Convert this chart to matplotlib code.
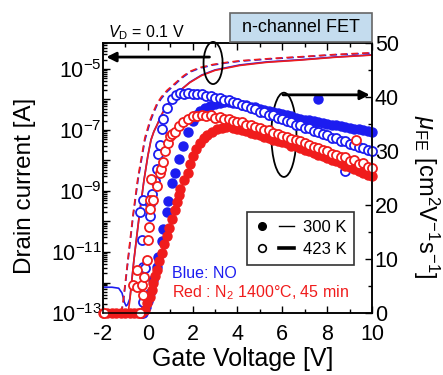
import numpy as np
import matplotlib
matplotlib.use('Agg')
import matplotlib.pyplot as plt
from matplotlib.lines import Line2D
from matplotlib.legend_handler import HandlerTuple
from matplotlib.patches import Ellipse, Rectangle
from matplotlib.ticker import LogLocator, FuncFormatter, MultipleLocator, NullFormatter

plt.rcParams.update({
    'font.family': ['Liberation Sans', 'DejaVu Sans'],
    'mathtext.fontset': 'custom',
    'mathtext.rm': 'Liberation Sans',
    'mathtext.it': 'Liberation Sans:italic',
    'mathtext.bf': 'Liberation Sans:bold',
    'axes.unicode_minus': False,
    'axes.linewidth': 1.1,
})

BLUE = '#1c1cf0'
RED = '#f01c1c'

# ---- drain current (left axis, log) ----
vg_i_no_300 = [-2.0, -1.6, -1.3, -1.15, -1.05, -0.97, -0.90, -0.80, -0.62, -0.39, -0.17, 0.0, 0.14,
               0.27, 0.41, 0.58, 0.77, 1.0, 1.21, 1.55, 1.88, 2.4, 3.0, 4.1, 5.3, 6.8, 8.3, 10.0]
i_no_300 = [7.0e-13, 7.0e-13, 6.5e-13, 4.5e-13, 2.3e-13, 1.7e-13, 1.9e-13, 3.0e-13, 5.5e-12, 1.4e-10,
            2.3e-9, 1.4e-8, 4.7e-8, 8.9e-8, 1.45e-7, 2.8e-7, 5.2e-7, 8.9e-7, 1.3e-6, 2.3e-6, 3.7e-6,
            6.3e-6, 9.3e-6, 1.35e-5, 1.7e-5, 2.0e-5, 2.45e-5, 2.9e-5]

vg_i_n2_300 = [-0.88, -0.80, -0.62, -0.39, -0.17, 0.0, 0.14, 0.27, 0.41, 0.58, 0.77, 1.0, 1.21,
               1.55, 1.88, 2.4, 3.0, 4.1, 5.3, 6.8, 8.3, 10.0]
i_n2_300 = [1.0e-13, 2.7e-13, 5.5e-12, 1.4e-10, 2.3e-9, 1.4e-8, 4.7e-8, 8.9e-8, 1.45e-7, 2.8e-7,
            5.2e-7, 8.9e-7, 1.3e-6, 2.3e-6, 3.6e-6, 6.1e-6, 9.0e-6, 1.3e-5, 1.65e-5, 1.95e-5,
            2.4e-5, 2.85e-5]

vg_i_423 = [-1.20, -1.11, -0.88, -0.66, -0.44, -0.13, 0.10, 0.25, 0.41, 0.60, 0.86, 1.10, 1.43,
            1.60, 1.88, 2.30, 2.91, 3.50, 4.11, 5.50, 6.79, 8.30, 10.0]
i_no_423 = [1.0e-13, 1.8e-13, 5.5e-12, 1.4e-10, 2.3e-9, 4.7e-8, 1.8e-7, 3.5e-7, 6.6e-7, 1.07e-6,
            1.8e-6, 2.6e-6, 4.4e-6, 5.6e-6, 7.9e-6, 1.05e-5, 1.35e-5, 1.58e-5, 1.8e-5, 2.14e-5,
            2.45e-5, 2.9e-5, 3.3e-5]
i_n2_423 = [1.0e-13, 2.1e-13, 6.5e-12, 1.7e-10, 2.8e-9, 5.6e-8, 2.1e-7, 4.0e-7, 7.4e-7, 1.2e-6,
            2.0e-6, 2.85e-6, 4.7e-6, 6.0e-6, 8.3e-6, 1.1e-5, 1.4e-5, 1.63e-5, 1.85e-5, 2.2e-5,
            2.5e-5, 2.95e-5, 3.4e-5]

# ---- field-effect mobility (right axis) ----
vg_mu_no_300 = [-0.30, -0.20, -0.10, 0.00, 0.10, 0.23, 0.41, 0.45, 0.63, 0.68, 0.85, 0.90, 1.08, 1.21,
                1.40, 1.57, 1.79, 2.00, 2.17, 2.33, 2.55, 2.77, 3.00, 3.20, 3.40, 3.60, 3.80, 4.00,
                4.20, 4.40, 4.60, 4.80, 5.00, 5.20, 5.40, 5.60, 5.80, 6.00, 6.20, 6.40, 6.60, 6.80,
                7.00, 7.20, 7.40, 7.60, 7.60, 7.80, 8.00, 8.20, 8.40, 8.60, 8.80, 9.00, 9.20, 9.40,
                9.60, 9.80, 10.00]
mu_no_300 = [0.0, 0.0, 1.1, 2.2, 3.7, 6.2, 8.6, 10.4, 13.3, 15.5, 18.7, 20.7, 24.0, 26.0, 28.5,
             31.0, 33.6, 35.6, 36.7, 37.5, 38.0, 38.4, 38.7, 38.9, 39.0, 39.1, 38.9, 38.9, 38.6,
             38.5, 38.2, 38.1, 37.8, 37.6, 37.4, 37.2, 37.0, 36.8, 36.6, 36.4, 36.2, 36.0, 35.8,
             35.7, 35.5, 35.3, 39.7, 35.1, 35.0, 34.9, 34.8, 34.7, 34.4, 34.3, 34.1, 34.0, 33.8,
             33.7, 33.5]

vg_mu_no_423 = [-0.30, -0.22, -0.20, -0.13, -0.26, -0.35, -0.22, 0.10, 0.10, 0.19, 0.32, 0.41, 0.45,
                0.54, 0.63, 0.68, 0.85, 1.08, 1.25, 1.43, 1.60, 1.80, 2.00, 2.20, 2.40, 2.60, 2.80,
                3.00, 3.20, 3.40, 3.60, 3.80, 4.00, 4.20, 4.40, 4.60, 4.80, 5.00, 5.20, 5.40, 5.60,
                5.80, 6.00, 6.20, 6.40, 6.60, 6.80, 7.00, 7.20, 7.40, 7.60, 7.80, 8.00, 8.20, 8.40,
                8.60, 8.80, 8.80, 9.00, 9.20, 9.40, 9.60, 9.80, 10.00]
mu_no_423 = [0.0, 2.0, 8.6, 8.4, 13.6, 18.7, 21.0, 17.9, 20.2, 22.0, 24.4, 26.7, 29.5, 31.2, 34.0,
             36.0, 38.0, 39.7, 40.3, 40.7, 40.6, 40.8, 40.6, 40.5, 40.6, 40.2, 40.2, 39.9, 39.8,
             39.5, 39.5, 39.0, 38.9, 38.5, 38.4, 37.9, 37.8, 37.3, 37.2, 36.7, 36.6, 36.1, 36.0,
             35.5, 35.4, 34.9, 34.8, 34.3, 34.2, 33.7, 33.6, 33.1, 33.0, 32.5, 32.4, 31.9, 31.8,
             26.3, 31.3, 31.2, 30.7, 30.6, 30.1, 30.0]

vg_mu_n2_300 = [-2.00, -1.80, -1.60, -1.40, -1.20, -1.00, -0.80, -0.60, -0.45, -0.30, -0.13, -0.02,
                0.10, 0.17, 0.23, 0.32, 0.41, 0.52, 0.63, 0.74, 0.85, 0.96, 1.08, 1.19, 1.30, 1.37,
                1.43, 1.60, 1.79, 1.90, 2.00, 2.15, 2.33, 2.50, 2.64, 2.85, 3.10, 3.30, 3.50, 3.80,
                4.00, 4.20, 4.40, 4.60, 4.80, 5.00, 5.20, 5.40, 5.60, 5.80, 6.00, 6.20, 6.40, 6.60,
                6.80, 7.00, 7.20, 7.40, 7.60, 7.80, 8.00, 8.20, 8.40, 8.60, 8.80, 9.00, 9.20, 9.40,
                9.60, 9.80, 10.00]
mu_n2_300 = [0, 0, 0, 0, 0, 0, 0, 0, 0, 0, 0.6, 1.8, 3.0, 4.3, 5.6, 6.8, 8.0, 9.6, 11.2, 12.7,
             14.2, 15.8, 17.4, 19.0, 20.5, 21.8, 23.0, 24.6, 26.0, 27.6, 29.0, 30.4, 31.5, 32.4,
             33.0, 33.6, 34.0, 34.3, 34.4, 34.2, 34.0, 33.8, 33.7, 33.3, 33.2, 32.9, 32.6, 32.4,
             32.1, 31.9, 31.6, 31.4, 31.0, 30.9, 30.5, 30.2, 30.0, 29.6, 29.3, 29.1, 28.7, 28.4,
             28.1, 27.8, 27.3, 27.0, 26.7, 26.3, 26.0, 25.6, 25.3]

vg_mu_n2_423 = [-1.95, -0.66, -0.48, -0.48, -0.35, -0.26, -0.22, -0.18, -0.04, 0.00, 0.05, 0.10,
                0.10, 0.12, 0.23, 0.41, 0.54, 0.60, 0.68, 0.77, 0.90, 0.99, 1.10, 1.21, 1.40, 1.57,
                1.80, 2.00, 2.20, 2.40, 2.60, 2.80, 3.00, 3.20, 3.40, 3.60, 3.80, 4.00, 4.20, 4.40,
                4.60, 4.80, 5.00, 5.20, 5.40, 5.60, 5.80, 6.00, 6.20, 6.40, 6.60, 6.80, 7.00, 7.20,
                7.40, 7.60, 7.80, 8.00, 8.20, 8.40, 8.60, 8.80, 9.00, 9.20, 9.30, 9.40, 9.60, 9.80,
                10.00]
mu_n2_423 = [0.0, 5.2, 4.9, 8.0, 0.0, 5.2, 3.4, 6.7, 9.9, 13.6, 16.0, 19.2, 21.0, 24.8, 21.0, 23.5,
             26.0, 26.7, 28.0, 30.0, 31.5, 32.7, 33.2, 33.6, 34.6, 35.4, 36.0, 36.4, 36.5, 36.7,
             36.5, 36.6, 36.2, 36.3, 35.9, 36.0, 35.6, 35.4, 35.3, 34.9, 34.8, 34.4, 34.3, 33.9,
             33.8, 33.3, 33.2, 32.8, 32.6, 32.3, 32.0, 31.8, 31.4, 31.2, 30.7, 30.6, 30.1, 30.0,
             29.5, 29.3, 28.8, 28.9, 28.2, 28.3, 32.0, 27.6, 27.8, 27.0, 26.8]

xticks = [-2, 0, 2, 4, 6, 8, 10]

fig = plt.figure(figsize=(4.43, 3.75), dpi=100)
fig.subplots_adjust(left=0.2325, right=0.8397, bottom=0.1653, top=0.8853)
ax1 = fig.add_subplot(111)
ax2 = ax1.twinx()

# current curves
ax1.semilogy(vg_i_no_300, i_no_300, color=BLUE, lw=1.2)
ax1.semilogy(vg_i_n2_300, i_n2_300, color=RED, lw=1.2)
ax1.semilogy(vg_i_423, i_no_423, color=BLUE, lw=1.2, ls=(0, (4, 2.5)))
ax1.semilogy(vg_i_423, i_n2_423, color=RED, lw=1.2, ls=(0, (4, 2.5)))

# mobility markers
ms = 6.5
ax2.plot(vg_mu_no_300, mu_no_300, 'o', ms=ms, color=BLUE, mec=BLUE, clip_on=False)
ax2.plot(vg_mu_no_423, mu_no_423, 'o', ms=ms, mfc='white', mec=BLUE, mew=1.3, clip_on=False)
ax2.plot(vg_mu_n2_300, mu_n2_300, 'o', ms=ms, color=RED, mec=RED, clip_on=False)
ax2.plot(vg_mu_n2_423, mu_n2_423, 'o', ms=ms, mfc='white', mec=RED, mew=1.3, clip_on=False)

ax1.set_xlim(-2, 10)
ax1.set_ylim(1e-13, 10 ** -4.15)
ax2.set_ylim(0, 50)

ax1.set_xticks(xticks)
ax1.xaxis.set_minor_locator(MultipleLocator(1))
ax1.yaxis.set_major_locator(LogLocator(base=10, subs=(1.0,), numticks=30))
ax1.yaxis.set_minor_locator(LogLocator(base=10, subs=np.arange(2, 10) * 1.0, numticks=30))
ax1.yaxis.set_minor_formatter(NullFormatter())


def log_label(v, pos):
    e = int(round(np.log10(v)))
    return f'$10^{{{e}}}$' if e % 2 else ''


ax1.yaxis.set_major_formatter(FuncFormatter(log_label))
ax2.yaxis.set_major_locator(MultipleLocator(10))
ax2.yaxis.set_minor_locator(MultipleLocator(5))

ax1.tick_params(which='both', direction='in', top=True, right=False, labelsize=15.5, width=1)
ax1.tick_params(which='major', length=5)
ax1.tick_params(which='minor', length=3)
ax1.tick_params(axis='x', pad=8)
ax1.tick_params(axis='y', pad=1)
ax2.tick_params(which='both', direction='in', labelsize=15.5, width=1, pad=2)
ax2.tick_params(which='major', length=5)
ax2.tick_params(which='minor', length=3)

ax1.set_xlabel('Gate Voltage [V]', fontsize=18, va='center')
ax1.xaxis.set_label_coords(0.52, -0.17)
ax1.set_ylabel('Drain current [A]', fontsize=17.5, va='center')
ax1.yaxis.set_label_coords(-0.29, 0.47)
ax2.set_ylabel(r'$\mu_\mathrm{FE}$ [cm$^2$V$^{-1}$s$^{-1}$]', fontsize=17, rotation=270,
               va='center')
ax2.yaxis.set_label_coords(1.2, 0.43)

# ellipses and arrows pointing to the relevant axis
ax2.add_patch(Ellipse((2.91, 46.3), 0.85, 7.8, fill=False, ec='black', lw=1.3, clip_on=False))
ax2.annotate('', xy=(-1.85, 47.4), xytext=(2.75, 47.4),
             arrowprops=dict(arrowstyle='-|>', lw=2, color='black', mutation_scale=14,
                             shrinkA=0, shrinkB=0))
ax2.add_patch(Ellipse((6.07, 33.0), 1.12, 15.6, fill=False, ec='black', lw=1.3, clip_on=False))
ax2.annotate('', xy=(9.9, 40.4), xytext=(6.03, 40.4),
             arrowprops=dict(arrowstyle='-|>', lw=2, color='black', mutation_scale=14,
                             shrinkA=0, shrinkB=0))

# legend: marker + line per temperature
h300 = (Line2D([], [], marker='o', ls='none', color='black', ms=5.5),
        Line2D([], [], color='black', lw=1))
h423 = (Line2D([], [], marker='o', ls='none', mfc='white', mec='black', mew=1.2, ms=5.5),
        Line2D([], [], color='black', lw=2.6))
leg = ax2.legend([h300, h423], ['300 K', '423 K'],
                 handler_map={tuple: HandlerTuple(ndivide=None, pad=0.5)},
                 loc='upper left', bbox_to_anchor=(0.535, 0.374), fontsize=12,
                 frameon=True, fancybox=False, edgecolor='#333333', framealpha=1,
                 handlelength=2.4, borderpad=0.45, labelspacing=0.45, handletextpad=0.5,
                 borderaxespad=0)
leg.get_frame().set_linewidth(1.2)

ax2.text(0.257, 0.148, 'Blue: NO', transform=ax2.transAxes, color=BLUE, fontsize=11.5,
         va='center', ha='left')
ax2.text(0.257, 0.074, 'Red : N$_2$ 1400°C, 45 min', transform=ax2.transAxes, color=RED,
         fontsize=11.5, va='center', ha='left')

fig.text(0.244, 0.912, r'$V_\mathrm{D}$ = 0.1 V', fontsize=11.5, va='center')
fig.add_artist(Rectangle((0.519, 0.888), 0.321, 0.077, transform=fig.transFigure,
                         fc='#c4dcee', ec='#666666', lw=1.2))
fig.text(0.68, 0.927, 'n-channel FET', ha='center', va='center', fontsize=13)

fig.savefig('out.png', dpi=100)
